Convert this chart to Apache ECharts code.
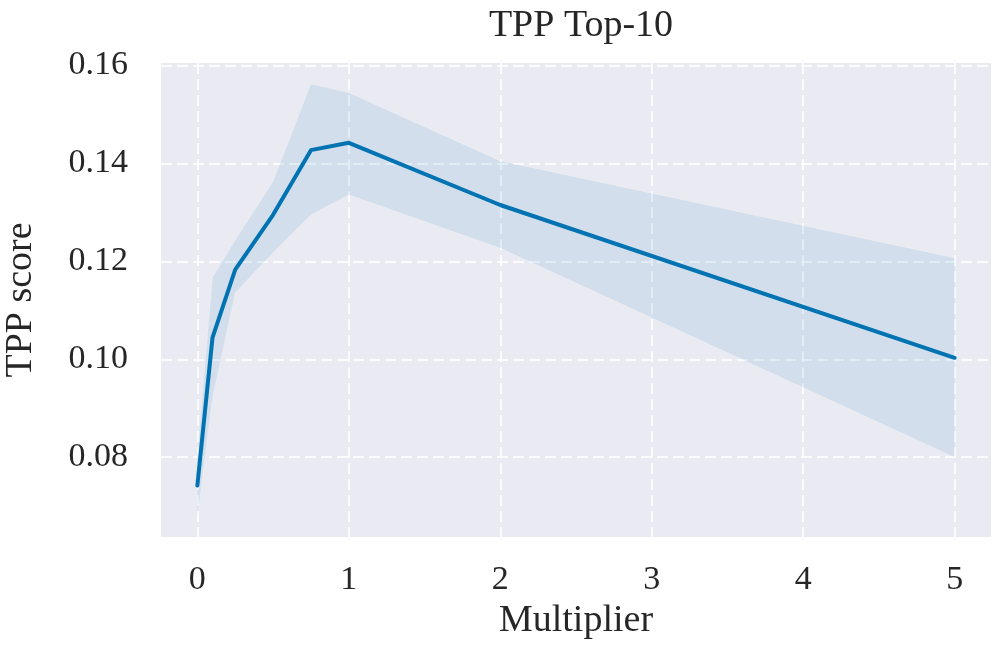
<!DOCTYPE html>
<html>
<head>
<meta charset="utf-8">
<title>TPP Top-10</title>
<script src="https://cdn.jsdelivr.net/npm/echarts@6/dist/echarts.min.js"></script>
<style>
	html, body { margin: 0; padding: 0; background: #fff; }
	#main { width: 997px; height: 659px; }
</style>
</head>
<body>
<div id="main"></div>
<script>
	// multiplier values
	var multipliers = [0, 0.1, 0.25, 0.5, 0.75, 1, 2, 5];
	// mean TPP score
	var tppMean = [0.0742, 0.1044, 0.1183, 0.1295, 0.1427, 0.1442, 0.1315, 0.1003];
	// band lower / upper
	var tppLower = [0.0678, 0.0922, 0.1136, 0.1218, 0.1295, 0.1336, 0.1227, 0.0800];
	var tppUpper = [0.0806, 0.1167, 0.1243, 0.1363, 0.1562, 0.1544, 0.1405, 0.1207];

	var xTicks = [0, 1, 2, 3, 4, 5];
	var yTicks = [0.08, 0.10, 0.12, 0.14, 0.16];

	var fontName = '"Liberation Serif", "DejaVu Serif", serif';

	var lineData = [];
	var bandData = [];
	for (var i = 0; i < multipliers.length; i++) {
		lineData.push([multipliers[i], tppMean[i]]);
		bandData.push([multipliers[i], tppLower[i], tppUpper[i]]);
	}

	var myChart = echarts.init(document.getElementById('main'));
	var option = {
		animation: false,
		title: {
			text: 'TPP Top-10',
			left: 576,
			textAlign: 'center',
			top: 2,
			textStyle: {
				fontFamily: fontName,
				fontWeight: 'normal',
				fontSize: 38,
				color: '#262626'
			}
		},
		grid: {
			left: 161,
			right: 6,
			top: 63,
			bottom: 122,
			outerBoundsMode: 'none',
			containLabel: false,
			show: true,
			backgroundColor: '#eaeaf2',
			borderWidth: 0
		},
		xAxis: {
			type: 'value',
			min: -0.24,
			max: 5.24,
			name: 'Multiplier',
			nameLocation: 'middle',
			nameGap: 52,
			nameTextStyle: { fontFamily: fontName, fontSize: 38, color: '#262626' },
			axisLine: { show: false },
			axisTick: { show: false, customValues: xTicks },
			axisLabel: {
				customValues: xTicks,
				margin: 26,
				fontFamily: fontName,
				fontSize: 34,
				color: '#262626'
			},
			splitLine: {
				show: true,
				lineStyle: { color: 'rgba(255,255,255,0.8)', width: 2, type: [11, 5] }
			}
		},
		yAxis: {
			type: 'value',
			min: 0.0637,
			max: 0.1605,
			name: 'TPP score',
			nameLocation: 'middle',
			nameGap: 121,
			nameTextStyle: { fontFamily: fontName, fontSize: 38, color: '#262626' },
			axisLine: { show: false },
			axisTick: { show: false, customValues: yTicks },
			axisLabel: {
				customValues: yTicks,
				margin: 33,
				fontFamily: fontName,
				fontSize: 34,
				color: '#262626',
				formatter: function (v) { return v.toFixed(2); }
			},
			splitLine: {
				show: true,
				lineStyle: { color: 'rgba(255,255,255,0.8)', width: 2, type: [11, 5] }
			}
		},
		series: [
			{
				// shaded band, drawn as one polygon
				type: 'custom',
				data: bandData,
				encode: { x: 0, y: [1, 2] },
				silent: true,
				z: 1,
				renderItem: function (params, api) {
					if (params.dataIndex !== 0) return;
					var pts = [];
					for (var k = 0; k < bandData.length; k++) {
						pts.push(api.coord([bandData[k][0], bandData[k][2]]));
					}
					for (var k = bandData.length - 1; k >= 0; k--) {
						pts.push(api.coord([bandData[k][0], bandData[k][1]]));
					}
					return {
						type: 'polygon',
						shape: { points: pts },
						style: { fill: 'rgba(1,115,178,0.1)', stroke: 'rgba(255,255,255,0.15)', lineWidth: 1 }
					};
				}
			},
			{
				type: 'line',
				data: lineData,
				showSymbol: false,
				z: 3,
				lineStyle: { color: '#0173b2', width: 4, cap: 'round', join: 'round' }
			}
		]
	};
	myChart.setOption(option);
</script>
</body>
</html>
